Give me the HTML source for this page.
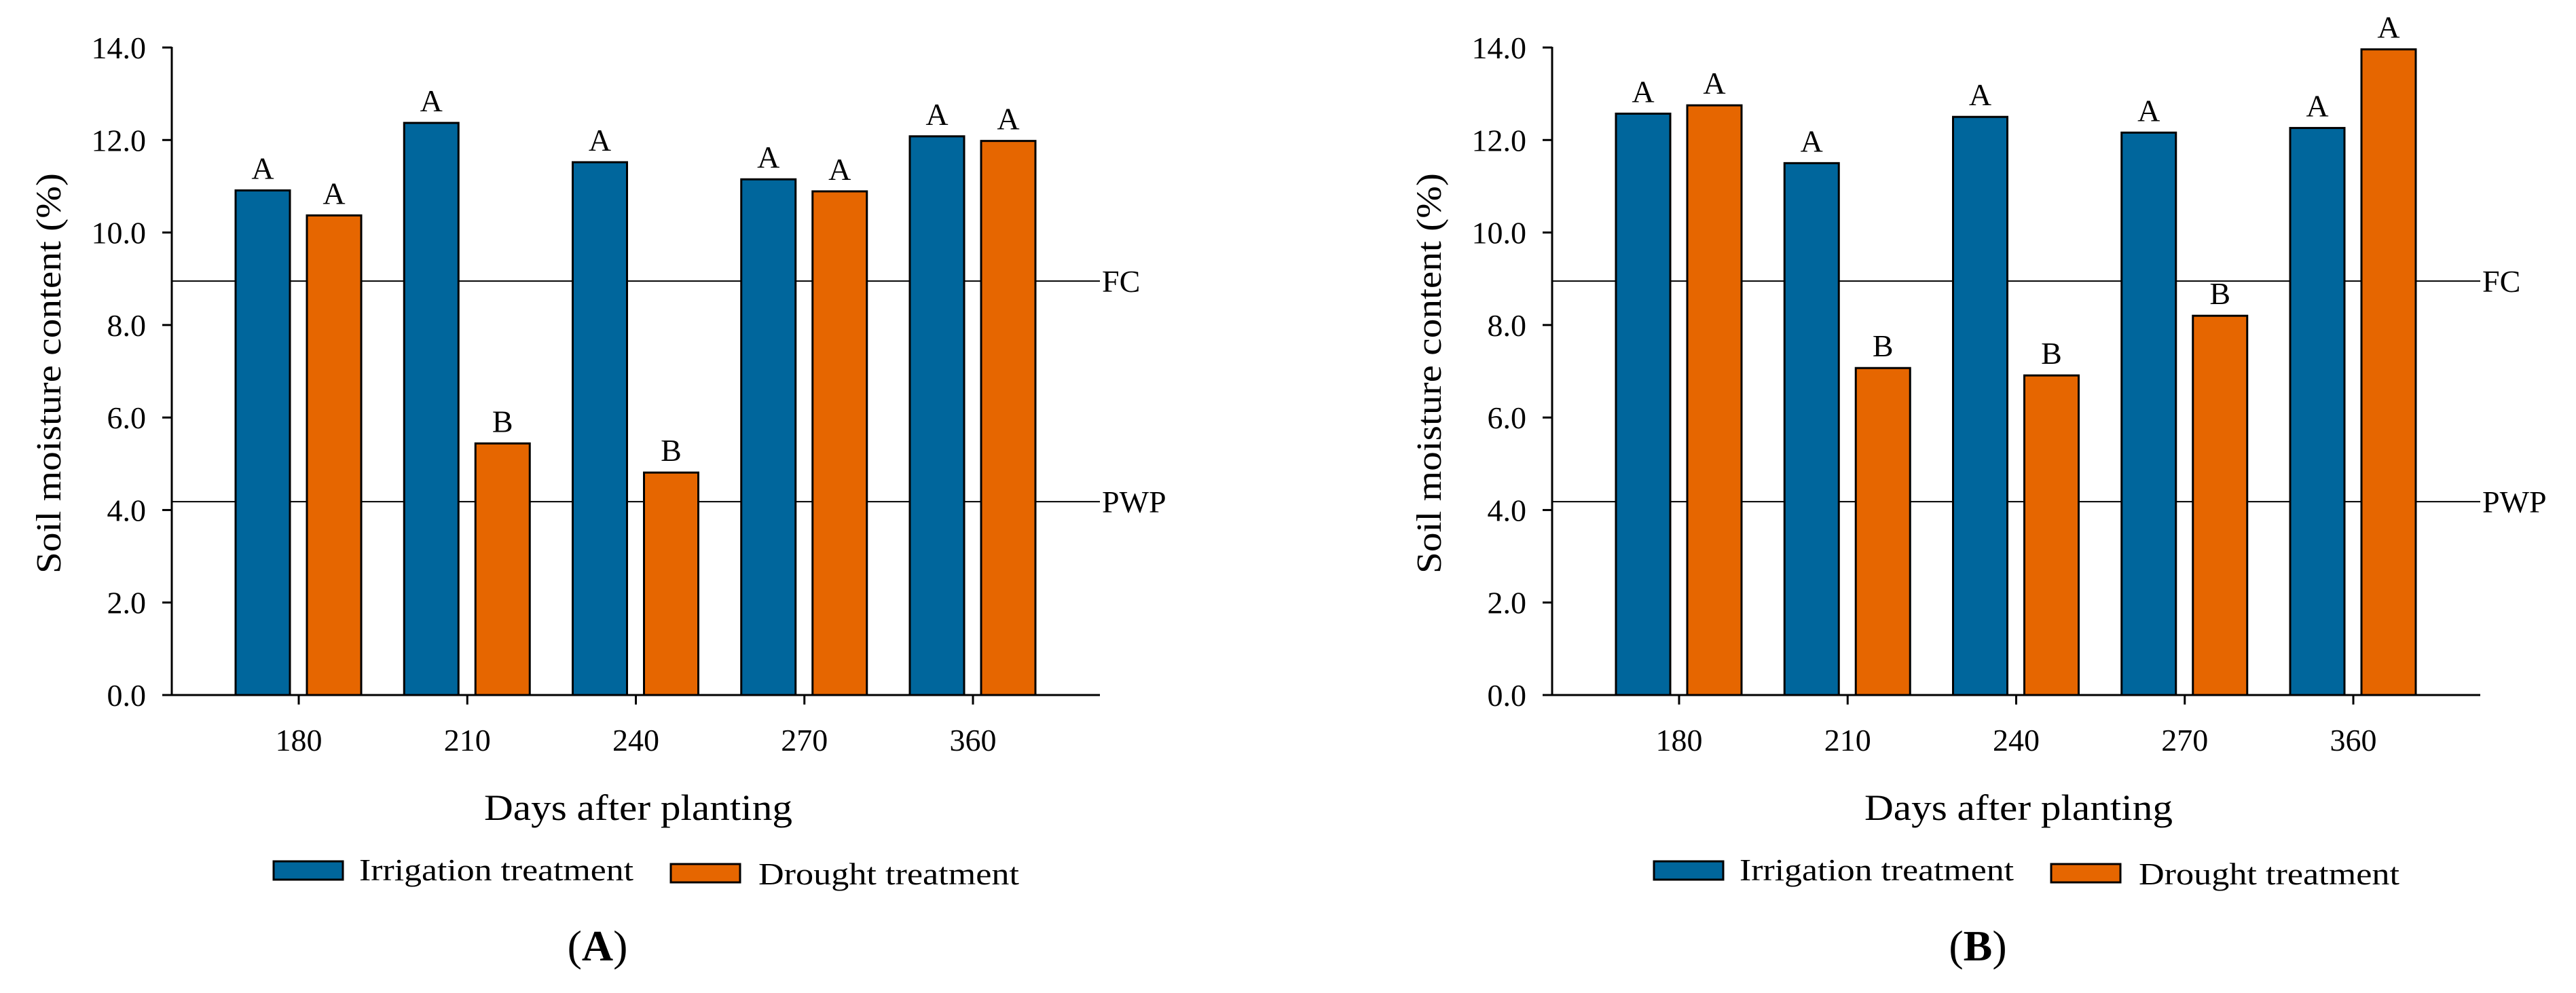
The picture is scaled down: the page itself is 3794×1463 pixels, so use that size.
<!DOCTYPE html>
<html><head><meta charset="utf-8"><title>Soil moisture content</title>
<style>html,body{margin:0;padding:0;background:#fff}svg{display:block}text{font-family:"Liberation Serif",serif;fill:#000}</style>
</head><body>
<svg id="chart" width="3794" height="1463" viewBox="0 0 3794 1463" xmlns="http://www.w3.org/2000/svg"></svg>
<script>
const categories = ["180","210","240","270","360"];
const yTicks = [0,2,4,6,8,10,12,14];
const yTickLabels = ["0.0","2.0","4.0","6.0","8.0","10.0","12.0","14.0"];
const irrigationA = [10.91,12.37,11.52,11.15,12.08];
const droughtA = [10.37,5.44,4.81,10.89,11.98];
const lettersIrrA = ["A","A","A","A","A"];
const lettersDroA = ["A","B","B","A","A"];
const irrigationB = [12.57,11.50,12.50,12.16,12.26];
const droughtB = [12.75,7.07,6.91,8.20,13.96];
const lettersIrrB = ["A","A","A","A","A"];
const lettersDroB = ["A","B","B","B","A"];
const fcValue = 8.95;
const pwpValue = 4.18;

const NS="http://www.w3.org/2000/svg";
const svg=document.getElementById('chart');
function mk(tag,attrs,parent){const e=document.createElementNS(NS,tag);for(const k in attrs)e.setAttribute(k,attrs[k]);(parent||svg).appendChild(e);return e;}

function drawPanel(off,irr,dro,li,ld,panelLabel,key){
  const g=mk('g',{});
  
  
  const axX=253+off, x0=axX, x1=1620+off, yTop=70, yBot=1024;
  const y=v=>yBot-(v/14)*(yBot-yTop);
  const xc=i=>440+off+i*248.25;
  // reference lines
  [[fcValue,'FC'],[pwpValue,'PWP']].forEach(([v,lab])=>{
    const l=mk('line',{x1:x0,x2:x1,y1:y(v),y2:y(v),stroke:'#000','stroke-width':2},g);
    
    
    const t=mk('text',{x:x1+3,y:y(v)+16,'font-size':46},g);
    
    
    t.textContent=lab;
  });
  // bars
  categories.forEach((c,i)=>{
    [[irr[i],li[i],-93,'#00669C','irrigation'],[dro[i],ld[i],12,'#E66600','drought']].forEach(([v,lt,dx,col,nm])=>{
      const bx=xc(i)+dx;
      const r=mk('rect',{x:bx,y:y(v),width:80,height:yBot-y(v),fill:col,stroke:'#000','stroke-width':3},g);
      
      
      const t=mk('text',{x:bx+40,y:y(v)-17,'font-size':46,'text-anchor':'middle'},g);
      
      
      t.textContent=lt;
    });
    const tk=mk('line',{x1:xc(i),x2:xc(i),y1:yBot,y2:yBot+14,stroke:'#000','stroke-width':3},g);
    
    
    const tl=mk('text',{x:xc(i),y:1106,'font-size':46,'text-anchor':'middle'},g);
    
    
    tl.textContent=c;
  });
  // axes
  const ax=mk('line',{x1:x0-1,x2:x1,y1:yBot,y2:yBot,stroke:'#000','stroke-width':3},g);
  
  
  const ay=mk('line',{x1:axX,x2:axX,y1:yTop-1,y2:yBot,stroke:'#000','stroke-width':3},g);
  
  
  yTicks.forEach((v,i)=>{
    const tk=mk('line',{x1:axX-14,x2:axX,y1:y(v),y2:y(v),stroke:'#000','stroke-width':3},g);
    
    
    const tl=mk('text',{x:axX-38,y:y(v)+16,'font-size':46,'text-anchor':'end'},g);
    
    
    tl.textContent=yTickLabels[i];
  });
  const yt=mk('text',{x:0,y:0,'font-size':52,'text-anchor':'middle',textLength:590,lengthAdjust:'spacingAndGlyphs',transform:'translate('+(89+off)+',550) rotate(-90)'},g);
  
  
  yt.textContent='Soil moisture content (%)';
  const xt=mk('text',{x:940+off,y:1208,'font-size':54,'text-anchor':'middle',textLength:454,lengthAdjust:'spacingAndGlyphs'},g);
  
  
  xt.textContent='Days after planting';
  // legend
  const lb=mk('rect',{x:403+off,y:1269,width:102,height:27,fill:'#00669C',stroke:'#000','stroke-width':3},g);
  
  
  const lt1=mk('text',{x:529+off,y:1297,'font-size':46,textLength:404,lengthAdjust:'spacingAndGlyphs'},g);
  
  
  lt1.textContent='Irrigation treatment';
  const ob=mk('rect',{x:988+off,y:1273,width:102,height:27,fill:'#E66600',stroke:'#000','stroke-width':3},g);
  
  
  const lt2=mk('text',{x:1117+off,y:1303,'font-size':46,textLength:384,lengthAdjust:'spacingAndGlyphs'},g);
  
  
  lt2.textContent='Drought treatment';
  const pl=mk('text',{x:880+off,y:1415,'font-size':64,'text-anchor':'middle'},g);
  
  
  const p1=mk('tspan',{},pl);p1.textContent='(';
  const p2=mk('tspan',{'font-weight':'bold'},pl);p2.textContent=panelLabel;
  const p3=mk('tspan',{},pl);p3.textContent=')';
}
drawPanel(0,irrigationA,droughtA,lettersIrrA,lettersDroA,'A','a');
drawPanel(2033,irrigationB,droughtB,lettersIrrB,lettersDroB,'B','b');
</script>
</body></html>
